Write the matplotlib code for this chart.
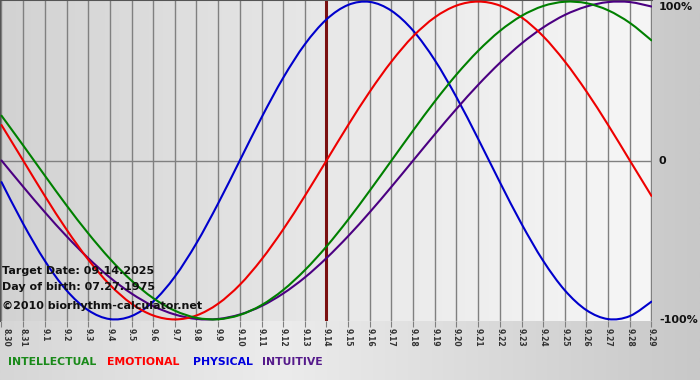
import numpy as np
import matplotlib
matplotlib.use("Agg")
import matplotlib.pyplot as plt
from matplotlib.colors import LinearSegmentedColormap
from matplotlib.path import Path
from matplotlib.patches import PathPatch

# ---- data ----
dates = ["8.30", "8.31", "9.1", "9.2", "9.3", "9.4", "9.5", "9.6", "9.7", "9.8", "9.9",
         "9.10", "9.11", "9.12", "9.13", "9.14", "9.15", "9.16", "9.17", "9.18", "9.19",
         "9.20", "9.21", "9.22", "9.23", "9.24", "9.25", "9.26", "9.27", "9.28", "9.29"]

physical = [-0.136, -0.398, -0.631, -0.817, -0.942, -0.998, -0.979, -0.888, -0.731, -0.520,
            -0.270, 0.000, 0.270, 0.520, 0.731, 0.888, 0.979, 0.998, 0.942, 0.817,
            0.631, 0.398, 0.136, -0.136, -0.398, -0.631, -0.817, -0.942, -0.998, -0.979,
            -0.888]
emotional = [0.223, 0.000, -0.223, -0.434, -0.623, -0.782, -0.901, -0.975, -1.000, -0.975,
             -0.901, -0.782, -0.623, -0.434, -0.223, 0.000, 0.223, 0.434, 0.623, 0.782,
             0.901, 0.975, 1.000, 0.975, 0.901, 0.782, 0.623, 0.434, 0.223, 0.000,
             -0.223]
intellectual = [0.282, 0.095, -0.095, -0.282, -0.458, -0.618, -0.756, -0.866, -0.945, -0.990,
                -0.999, -0.972, -0.910, -0.815, -0.690, -0.541, -0.372, -0.189, 0.000, 0.189,
                0.372, 0.541, 0.690, 0.815, 0.910, 0.972, 0.999, 0.990, 0.945, 0.866,
                0.756]
intuitive = [0.000, -0.165, -0.325, -0.476, -0.614, -0.736, -0.837, -0.916, -0.969, -0.997,
             -0.997, -0.969, -0.916, -0.837, -0.736, -0.614, -0.476, -0.325, -0.165, 0.000,
             0.165, 0.325, 0.476, 0.614, 0.736, 0.837, 0.916, 0.969, 0.997, 0.997,
             0.969]
target_date = "9.14"
y_tick_values = [1.0, 0.0, -1.0]
y_tick_labels = ["100%", "0", "-100%"]
legend_names = ["INTELLECTUAL", "EMOTIONAL", "PHYSICAL", "INTUITIVE"]
info_lines = ["Target Date: 09.14.2025", "Day of birth: 07.27.1975", "\u00a92010 biorhythm-calculator.net"]


def smooth_path(xs, ys):
    """Smooth (Catmull-Rom style) cubic Bezier path through the data points."""
    xs = np.asarray(xs, float)
    ys = np.asarray(ys, float)
    n = len(xs)
    verts = [(xs[0], ys[0])]
    codes = [Path.MOVETO]
    for i in range(n - 1):
        i0 = max(i - 1, 0)
        i3 = min(i + 2, n - 1)
        c1 = (xs[i] + (xs[i + 1] - xs[i0]) / 6.0, ys[i] + (ys[i + 1] - ys[i0]) / 6.0)
        c2 = (xs[i + 1] - (xs[i3] - xs[i]) / 6.0, ys[i + 1] - (ys[i3] - ys[i]) / 6.0)
        verts += [c1, c2, (xs[i + 1], ys[i + 1])]
        codes += [Path.CURVE4] * 3
    return Path(verts, codes)


# ---- figure ----
W, H = 700, 380
fig = plt.figure(figsize=(7, 3.8), dpi=100)

# figure background gradient
bg_ax = fig.add_axes([0, 0, 1, 1], zorder=-10)
bg_cmap = LinearSegmentedColormap.from_list("bg", [(0, "#d6d6d6"), (0.4, "#ececec"), (1.0, "#c8c8c8")])
bg_ax.imshow(np.linspace(0, 1, 256)[None, :], aspect="auto", cmap=bg_cmap,
             extent=[0, 1, 0, 1], transform=bg_ax.transAxes)
bg_ax.set_axis_off()

left_px, right_px, top_px, bottom_px = 0, 652, 0, 321
ax = fig.add_axes([left_px / W, 1 - bottom_px / H, (right_px - left_px) / W, (bottom_px - top_px) / H])

x = np.arange(len(dates))
px_per_day = (651.5 - 1.5) / (len(dates) - 1)
ax.set_xlim(-1.5 / px_per_day, (len(dates) - 1) + 0.5 / px_per_day)
ax.set_ylim(-1.01, 1.01)

# plot-area gradient
pa_cmap = LinearSegmentedColormap.from_list("pa", [(0, "#d2d2d2"), (0.5, "#e8e8e8"), (1.0, "#f6f6f6")])
ax.imshow(np.linspace(0, 1, 256)[None, :], aspect="auto", cmap=pa_cmap,
          extent=[0, 1, 0, 1], transform=ax.transAxes, zorder=0)

# grid
for xi in x:
    ax.axvline(xi, color="#808080", lw=1.0, zorder=1)
ax.axhline(0, color="#808080", lw=1.0, zorder=1)

# target line
ax.axvline(dates.index(target_date), color="#7a1010", lw=2.2, zorder=2)

colors = {"INTELLECTUAL": "#008000", "EMOTIONAL": "#ee0000", "PHYSICAL": "#0000cc", "INTUITIVE": "#4b0082"}
series = {"INTELLECTUAL": intellectual, "EMOTIONAL": emotional, "PHYSICAL": physical, "INTUITIVE": intuitive}
for name in ["PHYSICAL", "INTUITIVE", "EMOTIONAL", "INTELLECTUAL"]:
    patch = PathPatch(smooth_path(x, series[name]), facecolor="none", edgecolor=colors[name],
                      lw=1.5, zorder=3, joinstyle="round", capstyle="round")
    ax.add_patch(patch)

# axes styling
for s in ["left", "top"]:
    ax.spines[s].set_color("#555555")
    ax.spines[s].set_linewidth(1.5)
for s in ["right", "bottom"]:
    ax.spines[s].set_visible(False)

ax.set_xticks(x)
ax.set_xticklabels(dates, rotation=-90, fontsize=5.5, color="#333333", fontweight="bold")
ax.tick_params(axis="x", length=4, color="#808080", pad=1)
ax.get_xticklabels()[0].set_horizontalalignment("left")

ax.yaxis.tick_right()
ax.set_yticks(y_tick_values)
ax.set_yticklabels(y_tick_labels, fontsize=8, fontweight="bold", color="#111111")
ax.tick_params(axis="y", length=0, pad=5)
lbls = ax.get_yticklabels()
lbls[0].set_verticalalignment("top")
lbls[2].set_verticalalignment("center_baseline")

# info text
info_y = [271, 287, 306]
for t, yy in zip(info_lines, info_y):
    fig.text(2 / W, 1 - yy / H, t, fontsize=8, fontweight="bold", color="#111111",
             ha="left", va="center", zorder=5)

# legend text
legend_x = [8, 107, 193, 262]
legend_colors = ["#1a8a1a", "#ff0000", "#0000dd", "#551a8b"]
for name, xx, c in zip(legend_names, legend_x, legend_colors):
    fig.text(xx / W, 1 - 362 / H, name, fontsize=7.8, fontweight="bold", color=c, ha="left", va="center")

fig.savefig("out.png", dpi=100)
